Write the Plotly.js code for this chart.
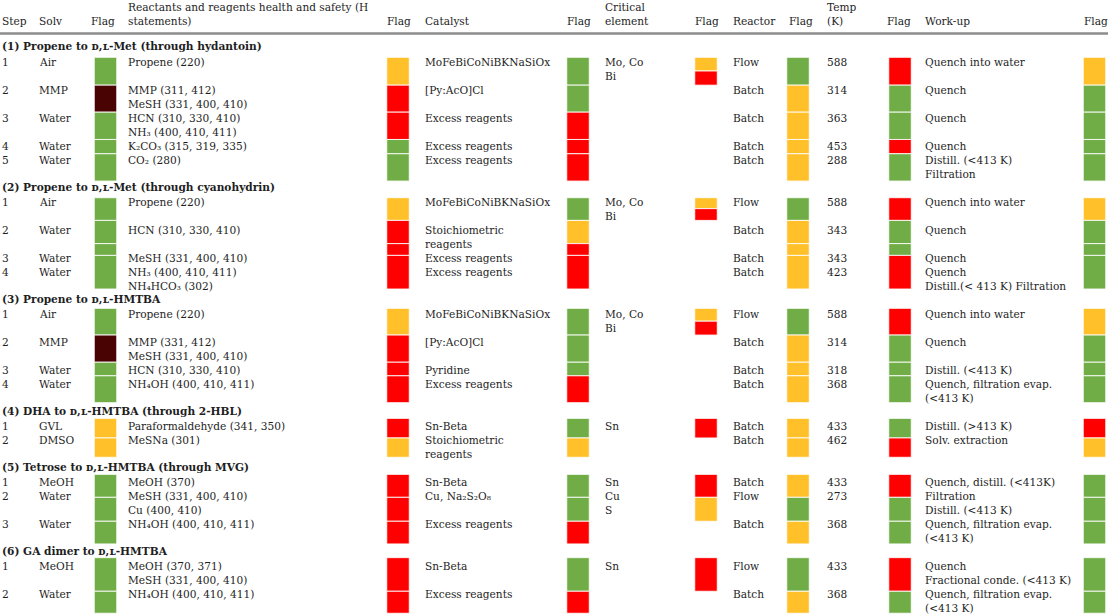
<!DOCTYPE html>
<html><head><meta charset="utf-8">
<script src="https://cdn.plot.ly/plotly-3.0.1.min.js"></script>
<style>html,body{margin:0;padding:0;background:#fff}</style>
</head><body>
<div id="chart" style="width:1108px;height:615px"></div>
<script>
// ---------------- DATA ----------------
const headerRow = ["Step","Solv","Flag","Reactants and reagents health and safety (H|statements)","Flag","Catalyst","Flag","Critical|element","Flag","Reactor","Flag","Temp|(K)","Flag","Work-up","Flag"];
const sectionTitles = [
  "(1) Propene to ᴅ,ʟ-Met (through hydantoin)",
  "(2) Propene to ᴅ,ʟ-Met (through cyanohydrin)",
  "(3) Propene to ᴅ,ʟ-HMTBA",
  "(4) DHA to ᴅ,ʟ-HMTBA (through 2-HBL)",
  "(5) Tetrose to ᴅ,ʟ-HMTBA (through MVG)",
  "(6) GA dimer to ᴅ,ʟ-HMTBA"
];
const rowSection = [0,0,0,0,0, 1,1,1,1, 2,2,2,2, 3,3, 4,4,4, 5,5];
const rowLine    = [1,3,5,7,8, 11,13,15,16, 19,21,23,24, 27,28, 31,32,34, 37,39];
const steps = ["1","2","3","4","5", "1","2","3","4", "1","2","3","4", "1","2", "1","2","3", "1","2"];
const solvents = ["Air","MMP","Water","Water","Water", "Air","Water","Water","Water", "Air","MMP","Water","Water", "GVL","DMSO", "MeOH","Water","Water", "MeOH","Water"];
const reactants = [
  ["Propene (220)"], ["MMP (311, 412)","MeSH (331, 400, 410)"], ["HCN (310, 330, 410)","NH₃ (400, 410, 411)"], ["K₂CO₃ (315, 319, 335)"], ["CO₂ (280)"],
  ["Propene (220)"], ["HCN (310, 330, 410)"], ["MeSH (331, 400, 410)"], ["NH₃ (400, 410, 411)","NH₄HCO₃ (302)"],
  ["Propene (220)"], ["MMP (331, 412)","MeSH (331, 400, 410)"], ["HCN (310, 330, 410)"], ["NH₄OH (400, 410, 411)"],
  ["Paraformaldehyde (341, 350)"], ["MeSNa (301)"],
  ["MeOH (370)"], ["MeSH (331, 400, 410)","Cu (400, 410)"], ["NH₄OH (400, 410, 411)"],
  ["MeOH (370, 371)","MeSH (331, 400, 410)"], ["NH₄OH (400, 410, 411)"]
];
const catalysts = [
  ["MoFeBiCoNiBKNaSiOx"], ["[Py:AcO]Cl"], ["Excess reagents"], ["Excess reagents"], ["Excess reagents"],
  ["MoFeBiCoNiBKNaSiOx"], ["Stoichiometric","reagents"], ["Excess reagents"], ["Excess reagents"],
  ["MoFeBiCoNiBKNaSiOx"], ["[Py:AcO]Cl"], ["Pyridine"], ["Excess reagents"],
  ["Sn-Beta"], ["Stoichiometric","reagents"],
  ["Sn-Beta"], ["Cu, Na₂S₂O₈"], ["Excess reagents"],
  ["Sn-Beta"], ["Excess reagents"]
];
const criticalElements = [
  ["Mo, Co","Bi"], [], [], [], [],
  ["Mo, Co","Bi"], [], [], [],
  ["Mo, Co","Bi"], [], [], [],
  ["Sn"], [],
  ["Sn"], ["Cu","S"], [],
  ["Sn"], []
];
const reactors = ["Flow","Batch","Batch","Batch","Batch", "Flow","Batch","Batch","Batch", "Flow","Batch","Batch","Batch", "Batch","Batch", "Batch","Flow","Batch", "Flow","Batch"];
const temps = ["588","314","363","453","288", "588","343","343","423", "588","314","318","368", "433","462", "433","273","368", "433","368"];
const workups = [
  ["Quench into water"], ["Quench"], ["Quench"], ["Quench"], ["Distill. (<413 K)","Filtration"],
  ["Quench into water"], ["Quench"], ["Quench"], ["Quench","Distill.(< 413 K) Filtration"],
  ["Quench into water"], ["Quench"], ["Distill. (<413 K)"], ["Quench, filtration evap.","(<413 K)"],
  ["Distill. (>413 K)"], ["Solv. extraction"],
  ["Quench, distill. (<413K)"], ["Filtration","Distill. (<413 K)"], ["Quench, filtration evap.","(<413 K)"],
  ["Quench","Fractional conde. (<413 K)"], ["Quench, filtration evap.","(<413 K)"]
];
// flag codes: G green, O amber, R red, D dark red
const solvFlag    = ["G","D","G","G","G", "G","G","G","G", "G","D","G","G", "O","O", "G","G","G", "G","G"];
const reactFlag   = ["O","R","R","G","G", "O","R","R","R", "O","R","R","R", "R","O", "R","R","R", "R","R"];
const catFlag     = ["G","G","R","R","R", "G","O","R","R", "G","G","G","R", "G","O", "G","G","R", "G","R"];
const reactorFlag = ["G","O","O","O","O", "G","O","O","O", "G","O","O","O", "O","O", "O","G","O", "G","O"];
const tempFlag    = ["R","G","G","R","G", "R","G","G","R", "R","G","G","G", "G","R", "R","G","G", "R","G"];
const workFlag    = ["O","G","G","G","G", "O","G","G","G", "O","G","G","G", "R","O", "G","G","G", "G","G"];
// flag cell extents, in text-line units
const cellTop    = [0.70,2.69,4.62,6.57,7.59, 10.73,12.35,14.01,14.85, 18.63,20.54,22.48,23.45, 26.49,27.89, 30.49,32.13,33.84, 36.44,38.84];
const cellBottom = [2.69,4.62,6.57,7.59,9.54, 12.35,14.01,14.85,17.25, 20.54,22.48,23.45,25.37, 27.89,29.27, 32.13,33.84,35.46, 38.84,40.41];
const critFlag   = ["O","R", "O","R", "O","R", "R", "R","O", "R"];
const critTop    = [0.70,1.68, 10.73,11.51, 18.63,19.55, 26.49, 30.49,32.13, 36.44];
const critBottom = [1.68,2.69, 11.51,12.35, 19.55,20.54, 27.89, 32.13,33.84, 38.84];

// ---------------- STYLE / LAYOUT ----------------
const COLORS = {G:'#70AD47', O:'#FFC02A', R:'#FF0000', D:'#4A0303'};
const FONT = 'DejaVu Serif';
const FS = 10.6;
const TXT = '#1e1e1e';
const W = 1108, H = 615, PITCH = 14, LINE0 = 47.5;
const headerX = [2, 39, 91, 128, 387, 425, 567, 605, 695, 733, 789, 827, 887, 925, 1084];
const textX = {step:2, solv:39, reac:128, cat:425, crit:605, reactor:733, temp:827, work:925};
const flagX = {solv:105.5, reac:398, cat:578, crit:706, reactor:798, temp:900, work:1094.5};
const FLAGW = 22.5;

const annotations = [];
function addText(x, y, text, bold) {
  annotations.push({x:x, y:y, xref:'x', yref:'y', text: text,
    showarrow:false, xanchor:'left', yanchor:'middle', borderpad:0,
    font:{family:FONT, size:FS, color:TXT, weight: bold ? 'bold' : 'normal'}});
}
// header
headerRow.forEach((h, i) => {
  const parts = h.split('|');
  if (parts.length === 2) { addText(headerX[i]-1, -2.89, parts[0]); addText(headerX[i]-1, -1.89, parts[1]); }
  else addText(headerX[i]-1, -1.89, parts[0]);
});
// section titles
sectionTitles.forEach((t, s) => {
  const first = rowSection.indexOf(s);
  const line = rowLine[first] - 1 - (s === 0 ? 0.12 : 0.07);
  addText(textX.step-1, line, t, true);
});
// rows
rowLine.forEach((ln, r) => {
  addText(textX.step-1, ln, steps[r]);
  addText(textX.solv-1, ln, solvents[r]);
  reactants[r].forEach((t, j) => addText(textX.reac-1, ln + j, t));
  catalysts[r].forEach((t, j) => addText(textX.cat-1, ln + j, t));
  criticalElements[r].forEach((t, j) => addText(textX.crit-1, ln + j, t));
  addText(textX.reactor-1, ln, reactors[r]);
  addText(textX.temp-1, ln, temps[r]);
  workups[r].forEach((t, j) => addText(textX.work-1, ln + j, t));
});

function flagTrace(cx, flags, tops, bottoms) {
  return {type:'bar', x: flags.map(() => cx), base: tops, y: bottoms.map((b, i) => b - tops[i]),
    width: FLAGW, marker:{color: flags.map(c => COLORS[c]), line:{color:'rgba(255,255,255,0.85)', width:1}},
    hoverinfo:'skip', showlegend:false};
}
const data = [
  flagTrace(flagX.solv, solvFlag, cellTop, cellBottom),
  flagTrace(flagX.reac, reactFlag, cellTop, cellBottom),
  flagTrace(flagX.cat, catFlag, cellTop, cellBottom),
  flagTrace(flagX.crit, critFlag, critTop, critBottom),
  flagTrace(flagX.reactor, reactorFlag, cellTop, cellBottom),
  flagTrace(flagX.temp, tempFlag, cellTop, cellBottom),
  flagTrace(flagX.work, workFlag, cellTop, cellBottom)
];

const layout = {
  width: W, height: H, margin:{l:0, r:0, t:0, b:0},
  paper_bgcolor:'#fff', plot_bgcolor:'#fff', barmode:'overlay', showlegend:false,
  xaxis:{range:[0, W], visible:false, fixedrange:true},
  yaxis:{range:[(H - LINE0)/PITCH, -LINE0/PITCH], visible:false, fixedrange:true},
  shapes:[{type:'line', xref:'x', yref:'y', x0:0, x1:W, y0:(33.5-LINE0)/PITCH, y1:(33.5-LINE0)/PITCH,
    line:{color:'#8c8c8c', width:2.5}}],
  annotations: annotations
};
Plotly.newPlot('chart', data, layout, {displayModeBar:false, staticPlot:true});
</script>
</body></html>
